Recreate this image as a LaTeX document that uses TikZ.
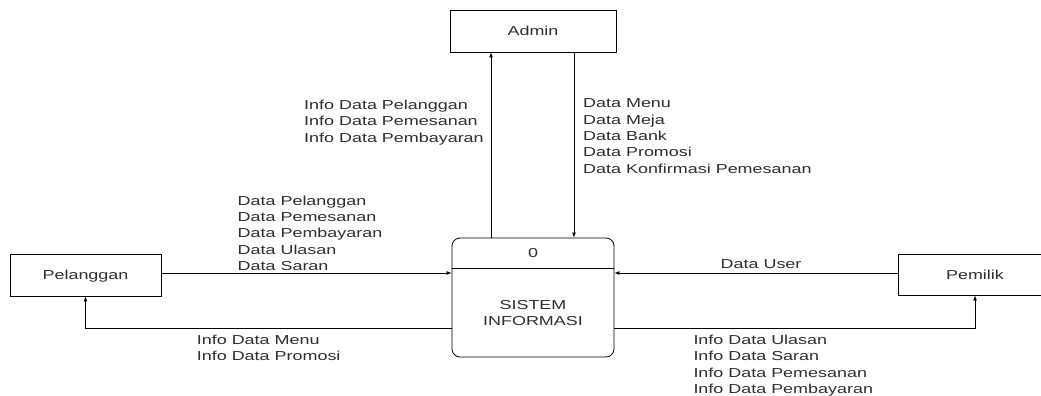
\documentclass[tikz,border=0pt]{standalone}
\usepackage{fontspec}
\setmainfont{Liberation Sans}[FakeStretch=1.38]
\usetikzlibrary{arrows.meta}
\begin{document}
\begin{tikzpicture}[x=1pt,y=-1pt,
  font=\fontsize{13}{16.3}\selectfont, text=black!82,
  ent/.style={draw, line width=0.8pt, inner sep=0, text height=9.5pt, text depth=0pt},
  flow/.style={draw, line width=0.8pt, -{Latex[length=5pt,width=4pt]}},
  lbl/.style={inner sep=0, align=left, anchor=north west},
  txt/.style={inner sep=0}]
\useasboundingbox (0,0) rectangle (1041,396);
\clip (0,0) rectangle (1041,396);
% entities
\node[ent, minimum width=166pt, minimum height=42pt] (admin) at (533,31) {Admin};
\node[ent, minimum width=151pt, minimum height=42pt] (pel) at (85.5,275) {Pelanggan};
\node[ent, minimum width=154pt, minimum height=41pt] (pem) at (975,274.5) {Pemilik};
% process
\node[draw, line width=0.8pt, rounded corners=8pt, minimum width=162pt, minimum height=119pt, inner sep=0] (sis) at (533,297.5) {};
\coordinate (divl) at (sis.west |- 0,268);
\coordinate (divr) at (sis.east |- 0,268);
\draw[line width=0.8pt] (divl) -- (divr);
\node[txt, anchor=base] (pid) at (533,257.5) {0};
\node[txt, align=center] (pname) at (533,313.3) {SISTEM\\INFORMASI};
% flows
\draw[flow] ([xshift=-42pt]sis.north) -- ([xshift=-42pt]admin.south);
\draw[flow] ([xshift=41pt]admin.south) -- ([xshift=41pt]sis.north);
\draw[flow] (pel.east |- 0,273) -- (sis.west |- 0,273);
\draw[flow] (sis.west |- 0,328) -| (pel.south);
\draw[flow] (pem.west |- 0,273) -- (sis.east |- 0,273);
\draw[flow] (sis.east |- 0,328) -| (pem.south);
% labels
\node[lbl] (l1) at (304,99.8) {Info Data Pelanggan\\Info Data Pemesanan\\Info Data Pembayaran};
\node[lbl] (l2) at (583,98.8) {Data Menu\\Data Meja\\Data Bank\\Data Promosi\\Data Konfirmasi Pemesanan};
\node[lbl] (l3) at (237.5,195.5) {Data Pelanggan\\Data Pemesanan\\Data Pembayaran\\Data Ulasan\\Data Saran};
\node[txt, anchor=base west] (l4) at (720.5,268.3) {Data User};
\node[lbl] (l5) at (196.7,334.5) {Info Data Menu\\Info Data Promosi};
\node[lbl] (l6) at (693.3,334.8) {Info Data Ulasan\\Info Data Saran\\Info Data Pemesanan\\Info Data Pembayaran};
\end{tikzpicture}
\end{document}
